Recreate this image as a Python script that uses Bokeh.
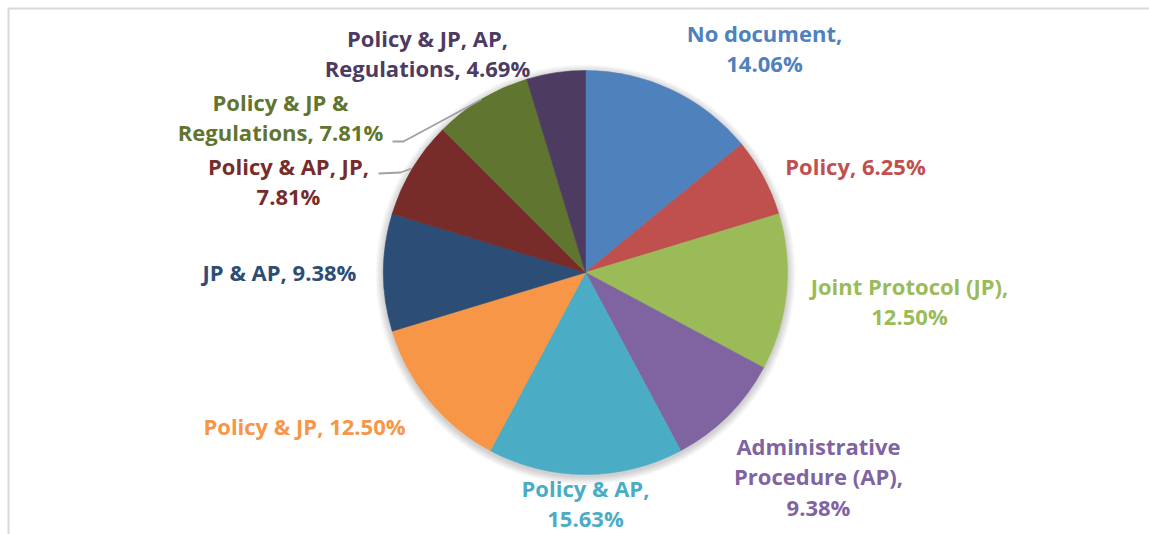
import numpy as np
from bokeh.plotting import figure
from bokeh.models import Range1d
from bokeh.core.properties import value
from bokeh.embed import file_html
from bokeh.resources import INLINE

# ---- data ----
categories = ["No document", "Policy", "Joint Protocol (JP)", "Administrative Procedure (AP)",
              "Policy & AP", "Policy & JP", "JP & AP", "Policy & AP, JP",
              "Policy & JP & Regulations", "Policy & JP, AP, Regulations"]
percents = [14.06, 6.25, 12.50, 9.38, 15.63, 12.50, 9.38, 7.81, 7.81, 4.69]
colors = ["#4F81BD", "#C0504D", "#9BBB59", "#8064A2", "#4BACC6",
          "#F79646", "#2C4D75", "#772C2A", "#5F7530", "#4D3B62"]
label_lines = [
    ["No document,", "{v}"],
    ["Policy, {v}"],
    ["Joint Protocol (JP),", "{v}"],
    ["Administrative", "Procedure (AP),", "{v}"],
    ["Policy & AP,", "{v}"],
    ["Policy & JP, {v}"],
    ["JP & AP, {v}"],
    ["Policy & AP, JP,", "{v}"],
    ["Policy & JP &", "Regulations, {v}"],
    ["Policy & JP, AP,", "Regulations, {v}"],
]

# ---- layout (pixel space, y measured from top) ----
W, H = 1149, 534
CX, CY, R = 585, 272, 202
label_pos = [(764, 32), (855, 165), (909, 285), (818, 445), (585, 487),
             (304, 425), (279, 271), (288, 165), (280, 101), (427, 37)]
LINE_H = 30.5
FONT = "Open Sans"
FSIZE = "22px"

p = figure(width=W, height=H, output_backend="svg", toolbar_location=None,
           x_range=Range1d(0, W), y_range=Range1d(0, H), min_border=0,
           background_fill_color="white", border_fill_color="white")
p.axis.visible = False
p.grid.visible = False
p.outline_line_color = None

def Y(py):
    return H - py

# frame
p.line([8, 8, W + 5], [Y(H + 5), Y(8), Y(8)], line_color="#D9D9D9", line_width=2)

# soft shadow
for k in range(1, 9):
    p.circle(x=[CX], y=[Y(CY + 2)], radius=R + k, fill_color="#000000",
             fill_alpha=0.025, line_color=None)

# wedges
frac = np.array(percents) / sum(percents)
cum = np.concatenate([[0], np.cumsum(frac)])
start = np.pi / 2 - cum[1:] * 2 * np.pi
end = np.pi / 2 - cum[:-1] * 2 * np.pi
p.wedge(x=CX, y=Y(CY), radius=R, start_angle=start, end_angle=end,
        fill_color=colors, line_color=colors, line_width=0.6)

# leader lines
p.line([392, 403, 481], [Y(141), Y(141), Y(99)], line_color="#A0A0A0", line_width=1.8)
p.line([378, 400, 411], [Y(173), Y(172), Y(168)], line_color="#A0A0A0", line_width=1.8)

# labels
xs, ys, txt, cols = [], [], [], []
for i, lines in enumerate(label_lines):
    lx, ly = label_pos[i]
    for j, ln in enumerate(lines):
        xs.append(lx)
        ys.append(Y(ly + j * LINE_H))
        txt.append(ln.format(v=f"{percents[i]:.2f}%"))
        cols.append(colors[i])
p.text(x=xs, y=ys, text=txt, text_color=cols, text_align="center",
       text_baseline="middle", text_font=value(FONT), text_font_size=FSIZE,
       text_font_style="bold")

open("out.html", "w").write(file_html(p, INLINE))
